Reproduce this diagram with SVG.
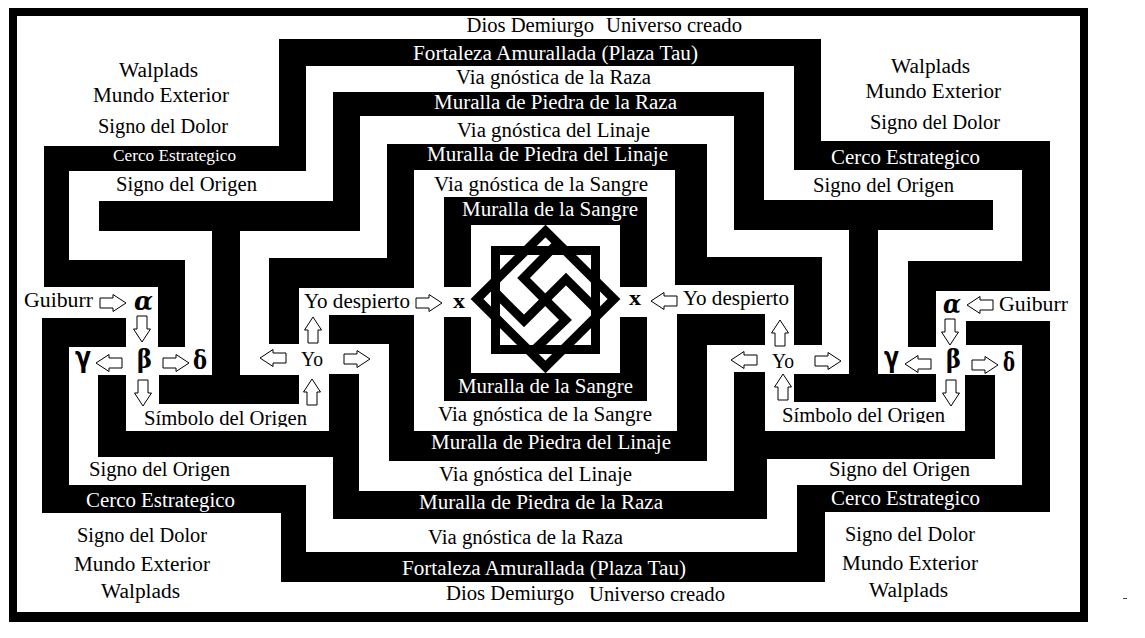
<svg xmlns="http://www.w3.org/2000/svg" width="1145" height="638" viewBox="0 0 1145 638">
<style>
text{font-family:"Liberation Serif","DejaVu Serif",serif;font-size:20px;fill:#000}
.w{fill:#fff}
.band{fill:#000}
.ar{fill:#fff;stroke:#000;stroke-width:1}
.em{fill:none;stroke:#000;stroke-width:9;stroke-linejoin:miter}
.g{font-family:"DejaVu Serif",serif;font-weight:bold;font-size:26px}
.i{font-style:italic}
.s{font-family:"DejaVu Sans",sans-serif;font-weight:bold;font-size:29px}
.x{font-weight:bold;font-size:22px}
</style>
<defs>
<path id="a" d="M-13,-5H0V-8.500L13,0L0,8.500V5H-13Z"/>
</defs>
<rect width="1145" height="638" fill="#fff"/>
<path class="band" fill-rule="evenodd" d="M9,8H1088V622H9ZM17,16V612H1080V16Z"/>
<g id="bands">
<path class="band" d="M279,39H821V141H1050V291H936V347H908V261H1022V170H794V66H306V171H69V260H185V347H158V287H44V146H279Z"/>
<path class="band" d="M42,318H126V347H69V485H306V552H797V485H1022V345H966V321H1050V512H825V582H281V513H42Z"/>
<path class="band" d="M333,92H764V200H993V230H734V116H360V231H240V375H299V404H159V375H212V231H99V201H333Z"/>
<path class="band" d="M849,230H878V374H936V402H794V374H849Z"/>
<path class="band" d="M98,375H126V431H329V374H359V491H734V372H765V431H965V375H995V459H767V519H333V457H98Z"/>
<path class="band" d="M387,144H707V257H822V345H794V285H675V170H414V288H299V344H269V258H387Z"/>
<path class="band" d="M329,315H414V431H677V314H765V345H707V461H389V344H329Z"/>
<path class="band" d="M444,197H647V287H620V225H471V287H444Z"/>
<path class="band" d="M444,317H471V373H620V317H647V401H444Z"/>
</g>
<g id="emblem">
<rect class="em" x="495.500" y="250.500" width="100" height="99"/>
<path class="em" d="M545.500,231L614,299L545.500,367L477,299Z"/>
<path class="em" d="M555,246L523.500,278L565.500,320L530,354"/>
<path class="em" d="M596,309L566,279L524,321L495,292"/>
</g>
<g id="arrows">
<use href="#a" class="ar" transform="translate(113,303)"/>
<use href="#a" class="ar" transform="translate(142,329) rotate(90)"/>
<use href="#a" class="ar" transform="translate(109,363) rotate(180)"/>
<use href="#a" class="ar" transform="translate(176,363)"/>
<use href="#a" class="ar" transform="translate(143,393) rotate(90)"/>
<use href="#a" class="ar" transform="translate(273,358) rotate(180)"/>
<use href="#a" class="ar" transform="translate(357,359)"/>
<use href="#a" class="ar" transform="translate(312,392) rotate(-90)"/>
<use href="#a" class="ar" transform="translate(313,330) rotate(-90)"/>
<use href="#a" class="ar" transform="translate(429,303)"/>
<use href="#a" class="ar" transform="translate(664,301) rotate(180)"/>
<use href="#a" class="ar" transform="translate(980,305) rotate(180)"/>
<use href="#a" class="ar" transform="translate(950,332) rotate(90)"/>
<use href="#a" class="ar" transform="translate(918,364) rotate(180)"/>
<use href="#a" class="ar" transform="translate(985,365)"/>
<use href="#a" class="ar" transform="translate(951,393) rotate(90)"/>
<use href="#a" class="ar" transform="translate(744,360) rotate(180)"/>
<use href="#a" class="ar" transform="translate(828,361)"/>
<use href="#a" class="ar" transform="translate(783,387) rotate(-90)"/>
<use href="#a" class="ar" transform="translate(780,333) rotate(-90)"/>
</g>
<g id="labels">
<text x="119" y="77" textLength="79" lengthAdjust="spacingAndGlyphs">Walplads</text>
<text x="93" y="102" textLength="136" lengthAdjust="spacingAndGlyphs">Mundo Exterior</text>
<text x="98" y="133" textLength="130" lengthAdjust="spacingAndGlyphs">Signo del Dolor</text>
<text class="w" x="113" y="161" textLength="123" lengthAdjust="spacingAndGlyphs" style="font-size:16px">Cerco Estrategico</text>
<text x="116" y="190.500" textLength="141" lengthAdjust="spacingAndGlyphs">Signo del Origen</text>
<text x="24" y="307" textLength="69" lengthAdjust="spacingAndGlyphs">Guiburr</text>
<text x="304" y="307.500" textLength="106" lengthAdjust="spacingAndGlyphs">Yo despierto</text>
<text x="301" y="366" textLength="22" lengthAdjust="spacingAndGlyphs">Yo</text>
<text x="144" y="425" textLength="163" lengthAdjust="spacingAndGlyphs">Símbolo del Origen</text>
<rect x="144" y="427" width="163" height="4" fill="#fff"/>
<text x="89" y="475.500" textLength="141" lengthAdjust="spacingAndGlyphs">Signo del Origen</text>
<text class="w" x="86" y="506.500" textLength="149" lengthAdjust="spacingAndGlyphs">Cerco Estrategico</text>
<text x="77" y="542" textLength="130" lengthAdjust="spacingAndGlyphs">Signo del Dolor</text>
<text x="74" y="571" textLength="136" lengthAdjust="spacingAndGlyphs">Mundo Exterior</text>
<text x="101" y="597.500" textLength="79" lengthAdjust="spacingAndGlyphs">Walplads</text>
<text x="891" y="73" textLength="79" lengthAdjust="spacingAndGlyphs">Walplads</text>
<text x="865.500" y="98" textLength="135.500" lengthAdjust="spacingAndGlyphs">Mundo Exterior</text>
<text x="870" y="129" textLength="130" lengthAdjust="spacingAndGlyphs">Signo del Dolor</text>
<text class="w" x="831" y="163.500" textLength="149" lengthAdjust="spacingAndGlyphs">Cerco Estrategico</text>
<text x="813" y="192" textLength="141" lengthAdjust="spacingAndGlyphs">Signo del Origen</text>
<text x="999" y="311" textLength="69" lengthAdjust="spacingAndGlyphs">Guiburr</text>
<text x="683" y="305" textLength="106" lengthAdjust="spacingAndGlyphs">Yo despierto</text>
<text x="772" y="368" textLength="22" lengthAdjust="spacingAndGlyphs">Yo</text>
<text x="782" y="421.500" textLength="163" lengthAdjust="spacingAndGlyphs">Símbolo del Origen</text>
<rect x="782" y="423" width="163" height="8" fill="#fff"/>
<text x="829" y="475.500" textLength="141" lengthAdjust="spacingAndGlyphs">Signo del Origen</text>
<text class="w" x="831" y="504.500" textLength="149" lengthAdjust="spacingAndGlyphs">Cerco Estrategico</text>
<text x="845" y="541" textLength="130" lengthAdjust="spacingAndGlyphs">Signo del Dolor</text>
<text x="842" y="570" textLength="136" lengthAdjust="spacingAndGlyphs">Mundo Exterior</text>
<text x="869" y="597" textLength="79" lengthAdjust="spacingAndGlyphs">Walplads</text>
<text x="466.500" y="32" textLength="127.500" lengthAdjust="spacingAndGlyphs">Dios Demiurgo</text>
<text x="606" y="32" textLength="136" lengthAdjust="spacingAndGlyphs">Universo creado</text>
<text class="w" x="413" y="60" textLength="285" lengthAdjust="spacingAndGlyphs">Fortaleza Amurallada (Plaza Tau)</text>
<text x="456" y="83.500" textLength="195" lengthAdjust="spacingAndGlyphs">Via gnóstica de la Raza</text>
<text class="w" x="434" y="109" textLength="243" lengthAdjust="spacingAndGlyphs">Muralla de Piedra de la Raza</text>
<text x="457" y="137" textLength="193" lengthAdjust="spacingAndGlyphs">Via gnóstica del Linaje</text>
<text class="w" x="427" y="161" textLength="241" lengthAdjust="spacingAndGlyphs">Muralla de Piedra del Linaje</text>
<text x="434" y="190.500" textLength="214" lengthAdjust="spacingAndGlyphs">Via gnóstica de la Sangre</text>
<text class="w" x="462" y="216" textLength="176" lengthAdjust="spacingAndGlyphs">Muralla de la Sangre</text>
<text class="w" x="458" y="392.500" textLength="175" lengthAdjust="spacingAndGlyphs">Muralla de la Sangre</text>
<text x="438" y="421" textLength="214" lengthAdjust="spacingAndGlyphs">Via gnóstica de la Sangre</text>
<text class="w" x="431" y="449" textLength="240" lengthAdjust="spacingAndGlyphs">Muralla de Piedra del Linaje</text>
<text x="439" y="481" textLength="193" lengthAdjust="spacingAndGlyphs">Via gnóstica del Linaje</text>
<text class="w" x="419" y="509" textLength="244" lengthAdjust="spacingAndGlyphs">Muralla de Piedra de la Raza</text>
<text x="428" y="543.500" textLength="195" lengthAdjust="spacingAndGlyphs">Via gnóstica de la Raza</text>
<text class="w" x="402" y="575" textLength="284" lengthAdjust="spacingAndGlyphs">Fortaleza Amurallada (Plaza Tau)</text>
<text x="446" y="600" textLength="128" lengthAdjust="spacingAndGlyphs">Dios Demiurgo</text>
<text x="589" y="601" textLength="136" lengthAdjust="spacingAndGlyphs">Universo creado</text>
<text class="x" x="453" y="308" textLength="12" lengthAdjust="spacingAndGlyphs">x</text>
<text class="x" x="629" y="305" textLength="12" lengthAdjust="spacingAndGlyphs">x</text>
<text class="g i" x="134" y="310" textLength="19" lengthAdjust="spacingAndGlyphs">α</text>
<text class="g" x="137" y="368" textLength="15" lengthAdjust="spacingAndGlyphs">β</text>
<text class="s" x="75" y="367" textLength="16" lengthAdjust="spacingAndGlyphs">γ</text>
<text class="g" x="193" y="369" textLength="14" lengthAdjust="spacingAndGlyphs">δ</text>
<text class="g i" x="943" y="313" textLength="18" lengthAdjust="spacingAndGlyphs">α</text>
<text class="g" x="946" y="368" textLength="15" lengthAdjust="spacingAndGlyphs">β</text>
<text class="s" x="884" y="367" textLength="15" lengthAdjust="spacingAndGlyphs">γ</text>
<text class="g" x="1003" y="371" textLength="12" lengthAdjust="spacingAndGlyphs">δ</text>
</g>
<rect x="1123" y="598" width="4" height="1" fill="#444"/>
</svg>
